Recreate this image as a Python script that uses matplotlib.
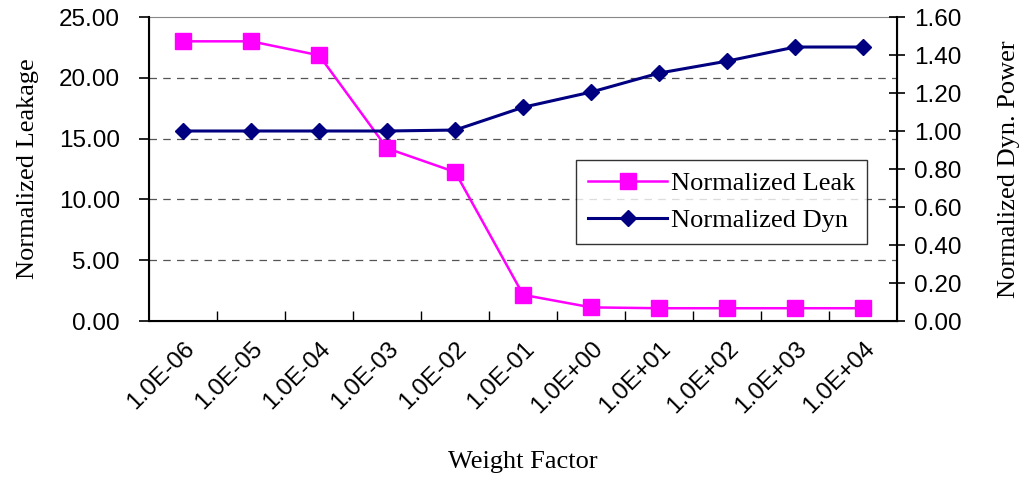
import numpy as np
import matplotlib.pyplot as plt

# data
weights = ['1.0E-06', '1.0E-05', '1.0E-04', '1.0E-03', '1.0E-02', '1.0E-01',
           '1.0E+00', '1.0E+01', '1.0E+02', '1.0E+03', '1.0E+04']
leak = [23.0, 23.0, 21.85, 14.2, 12.25, 2.15, 1.12, 1.05, 1.05, 1.05, 1.05]
dyn = [1.0, 1.0, 1.0, 1.0, 1.005, 1.125, 1.205, 1.305, 1.368, 1.442, 1.442]

serif = 'Liberation Serif'
sans = 'Liberation Sans'

fig = plt.figure(figsize=(10.29, 4.83), dpi=100)
ax = fig.add_axes([0.1448, 0.3354, 0.7273, 0.6294])
ax2 = ax.twinx()

x = np.arange(len(weights))

l1, = ax.plot(x, leak, color='#ff00ff', lw=1.8, marker='s', ms=11,
              label='Normalized Leak', zorder=3)
l2, = ax2.plot(x, dyn, color='#000080', lw=2.2, marker='D', ms=8,
               label='Normalized Dyn', zorder=3)

ax.set_xlim(-0.5, len(weights) - 0.5)
ax.set_ylim(0, 25)
ax2.set_ylim(0, 1.6)

ax.set_yticks(np.arange(0, 26, 5))
ax.set_yticklabels([f'{v:.2f}' for v in np.arange(0, 26, 5)],
                   fontsize=17.5, family=sans)
ax2.set_yticks(np.arange(0, 1.61, 0.2))
ax2.set_yticklabels([f'{v:.2f}' for v in np.arange(0, 1.61, 0.2)],
                    fontsize=17.5, family=sans)

for v in [5, 10, 15, 20]:
    ax.axhline(v, color='#555555', lw=0.9, ls=(0, (6, 5)), zorder=1)

# category labels at centres, tick marks between categories
ax.set_xticks(x)
ax.set_xticklabels(weights, rotation=45, ha='right', rotation_mode='anchor',
                   fontsize=17.5, family=sans)
ax.tick_params(axis='x', length=0, pad=12)
ax.set_xticks(np.arange(0.5, len(weights) - 1, 1), minor=True)
ax.tick_params(axis='x', which='minor', direction='in', length=7, width=1)
ax.tick_params(axis='y', direction='out', length=7, width=1.2, pad=14)
ax2.tick_params(axis='y', direction='inout', length=12, width=1.2, pad=6)

ax.spines['top'].set_color('#888888')
for s in ['left', 'bottom']:
    ax.spines[s].set_linewidth(1.5)
ax2.spines['right'].set_linewidth(1.5)
ax2.spines['top'].set_visible(False)

ax.set_ylabel('Normalized Leakage', fontsize=19, family=serif, labelpad=14)
ax2.set_ylabel('Normalized Dyn. Power', fontsize=19, family=serif, labelpad=26)
ax.set_xlabel('Weight Factor', fontsize=19, family=serif, labelpad=24)

leg = ax2.legend([l1, l2], ['Normalized Leak', 'Normalized Dyn'],
                 loc='upper left', bbox_to_anchor=(0.571, 0.53),
                 prop={'family': serif, 'size': 19}, frameon=True,
                 fancybox=False, handlelength=3.0, borderpad=0.45,
                 labelspacing=0.5, handletextpad=0.15, borderaxespad=0)
leg.get_frame().set_edgecolor('black')
leg.get_frame().set_linewidth(1.0)

fig.savefig('out.png', dpi=100, facecolor='white')
